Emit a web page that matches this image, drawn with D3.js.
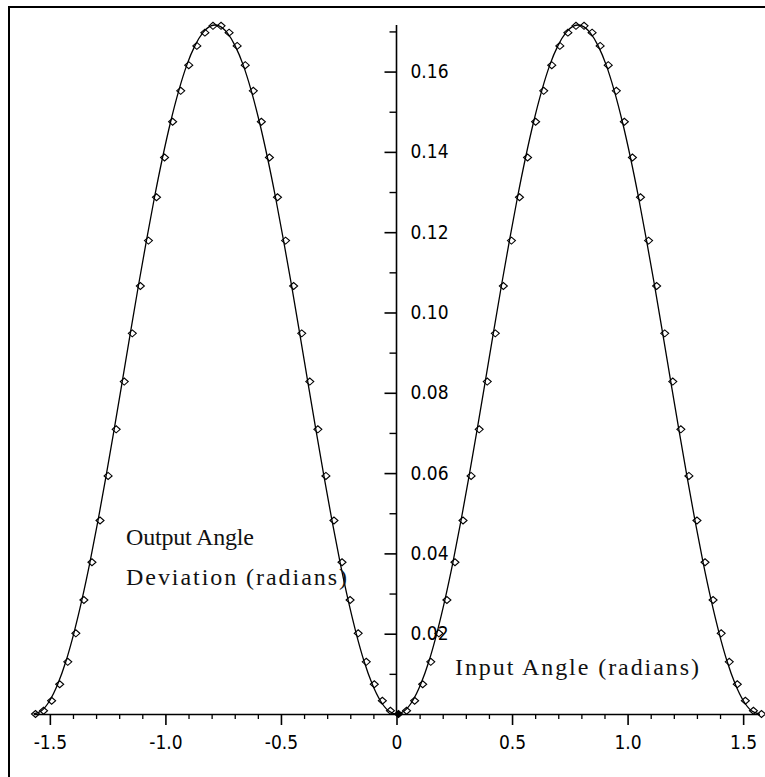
<!DOCTYPE html>
<html>
<head>
<meta charset="utf-8">
<script src="https://cdn.jsdelivr.net/npm/d3@7"></script>
<style>
  html, body { margin: 0; padding: 0; background: #fff; }
  svg { display: block; }
  .tick text { font-family: "Liberation Sans Narrow", "DejaVu Sans Condensed", sans-serif; font-size: 19px; fill: #000; }
  .note { font-family: "Liberation Serif", "Times New Roman", serif; font-size: 24px; fill: #111; }
</style>
</head>
<body>
<svg id="chart" width="765" height="777"></svg>
<script>
// input angle in degrees, marker every 2 degrees
const angleNeg = [-90,-88,-86,-84,-82,-80,-78,-76,-74,-72,-70,-68,-66,-64,-62,-60,-58,-56,-54,-52,-50,-48,-46,
                  -44,-42,-40,-38,-36,-34,-32,-30,-28,-26,-24,-22,-20,-18,-16,-14,-12,-10,-8,-6,-4,-2];
const deviationNeg = [0,.0008,.0033,.0074,.0130,.0201,.0284,.0378,.0482,.0593,.0709,.0828,.0948,.1066,.1179,.1287,.1386,.1475,.1552,.1616,.1664,.1697,.1714,
                      .1714,.1697,.1664,.1616,.1552,.1475,.1386,.1287,.1179,.1066,.0948,.0828,.0709,.0593,.0482,.0378,.0284,.0201,.0130,.0074,.0033,.0008];
const anglePos = [0,2,4,6,8,10,12,14,16,18,20,22,24,26,28,30,32,34,36,38,40,42,44,
                  46,48,50,52,54,56,58,60,62,64,66,68,70,72,74,76,78,80,82,84,86,88,90];
const deviationPos = [0,.0008,.0033,.0074,.0130,.0201,.0284,.0378,.0482,.0593,.0709,.0828,.0948,.1066,.1179,.1287,.1386,.1475,.1552,.1616,.1664,.1697,.1714,
                      .1714,.1697,.1664,.1616,.1552,.1475,.1386,.1287,.1179,.1066,.0948,.0828,.0709,.0593,.0482,.0378,.0284,.0201,.0130,.0074,.0033,.0008,0];
// the two peaks of the solid curve
const peakAngle = [-45, 45];
const peakDeviation = [0.1716, 0.1716];

const xMajor = [-1.5, -1.0, -0.5, 0, 0.5, 1.0, 1.5];
const xMinor = [-1.4,-1.3,-1.2,-1.1,-0.9,-0.8,-0.7,-0.6,-0.4,-0.3,-0.2,-0.1,0.1,0.2,0.3,0.4,0.6,0.7,0.8,0.9,1.1,1.2,1.3,1.4];
const yMajor = [0.02, 0.04, 0.06, 0.08, 0.10, 0.12, 0.14, 0.16];
const yMinor = [0.01, 0.03, 0.05, 0.07, 0.09, 0.11, 0.13, 0.15, 0.17];

const rad = d => d * Math.PI / 180;

let markers = angleNeg.map((a, i) => ({ x: rad(a), y: deviationNeg[i] }))
  .concat(anglePos.map((a, i) => ({ x: rad(a), y: deviationPos[i] })));
let linePts = markers.concat(peakAngle.map((a, i) => ({ x: rad(a), y: peakDeviation[i] })))
  .sort((a, b) => a.x - b.x);

const svg = d3.select("#chart");

// frame
svg.append("rect")
  .attr("x", 9).attr("y", 7)
  .attr("width", 800).attr("height", 800)
  .attr("fill", "none").attr("stroke", "#000").attr("stroke-width", 2);

const x = d3.scaleLinear().domain([-Math.PI / 2, Math.PI / 2]).range([33.5, 759.5]);
const y = d3.scaleLinear().domain([0, 0.1716]).range([714, 25]);

// x axis
const fmtX = d => d === 0 ? "0" : d3.format(".1f")(d).replace("\u2212", "-");

svg.append("g")
  .attr("transform", `translate(0,${y(0)})`)
  .call(d3.axisBottom(x).tickValues(xMinor).tickSize(5).tickSizeOuter(0).tickFormat(""))
  .call(g => g.select(".domain").remove())
  .selectAll("line").attr("stroke-width", 1.3);

const xAx = svg.append("g")
  .attr("transform", `translate(0,${y(0)})`)
  .call(d3.axisBottom(x).tickValues(xMajor).tickSize(11).tickSizeOuter(0).tickPadding(11).tickFormat(fmtX));
xAx.select(".domain").attr("stroke-width", 1.6);
xAx.selectAll("line").attr("stroke-width", 1.6);

// y axis: ticks on the left, labels on the right
svg.append("g")
  .attr("transform", `translate(${x(0)},0)`)
  .call(d3.axisLeft(y).tickValues(yMinor).tickSize(7).tickSizeOuter(0).tickFormat(""))
  .call(g => g.select(".domain").remove())
  .selectAll("line").attr("stroke-width", 1.4);

const yAx = svg.append("g")
  .attr("transform", `translate(${x(0)},0)`)
  .call(d3.axisLeft(y).tickValues(yMajor).tickSize(12).tickSizeOuter(0).tickFormat(""));
yAx.select(".domain").attr("d", `M0,${y(0)}V${y(0.1716)}`).attr("stroke-width", 1.6);
yAx.selectAll("line").attr("stroke-width", 1.6);

svg.append("g")
  .attr("transform", `translate(${x(0)},0)`)
  .call(d3.axisRight(y).tickValues(yMajor).tickSize(0).tickPadding(14).tickFormat(d3.format(".2f")))
  .call(g => g.select(".domain").remove());

// solid curve
svg.append("path")
  .datum(linePts)
  .attr("fill", "none")
  .attr("stroke", "#000")
  .attr("stroke-width", 1.3)
  .attr("d", d3.line().x(d => x(d.x)).y(d => y(d.y)).curve(d3.curveMonotoneX));

// diamond markers
svg.append("g").selectAll("path")
  .data(markers)
  .join("path")
  .attr("transform", d => `translate(${x(d.x) + 2},${y(d.y)})`)
  .attr("d", "M-4,0L0,-3.5L4,0L0,3.5Z")
  .attr("fill", d => d.x === 0 ? "#000" : "none")
  .attr("stroke", "#000")
  .attr("stroke-width", 1.1);

// annotations
svg.append("text").attr("class", "note").attr("x", 126).attr("y", 545)
  .attr("textLength", 128).attr("lengthAdjust", "spacing").text("Output Angle");
svg.append("text").attr("class", "note").attr("x", 126).attr("y", 585)
  .attr("textLength", 221).attr("lengthAdjust", "spacing").text("Deviation (radians)");
svg.append("text").attr("class", "note").attr("x", 455).attr("y", 675)
  .attr("textLength", 244).attr("lengthAdjust", "spacing").text("Input Angle (radians)");
</script>
</body>
</html>
